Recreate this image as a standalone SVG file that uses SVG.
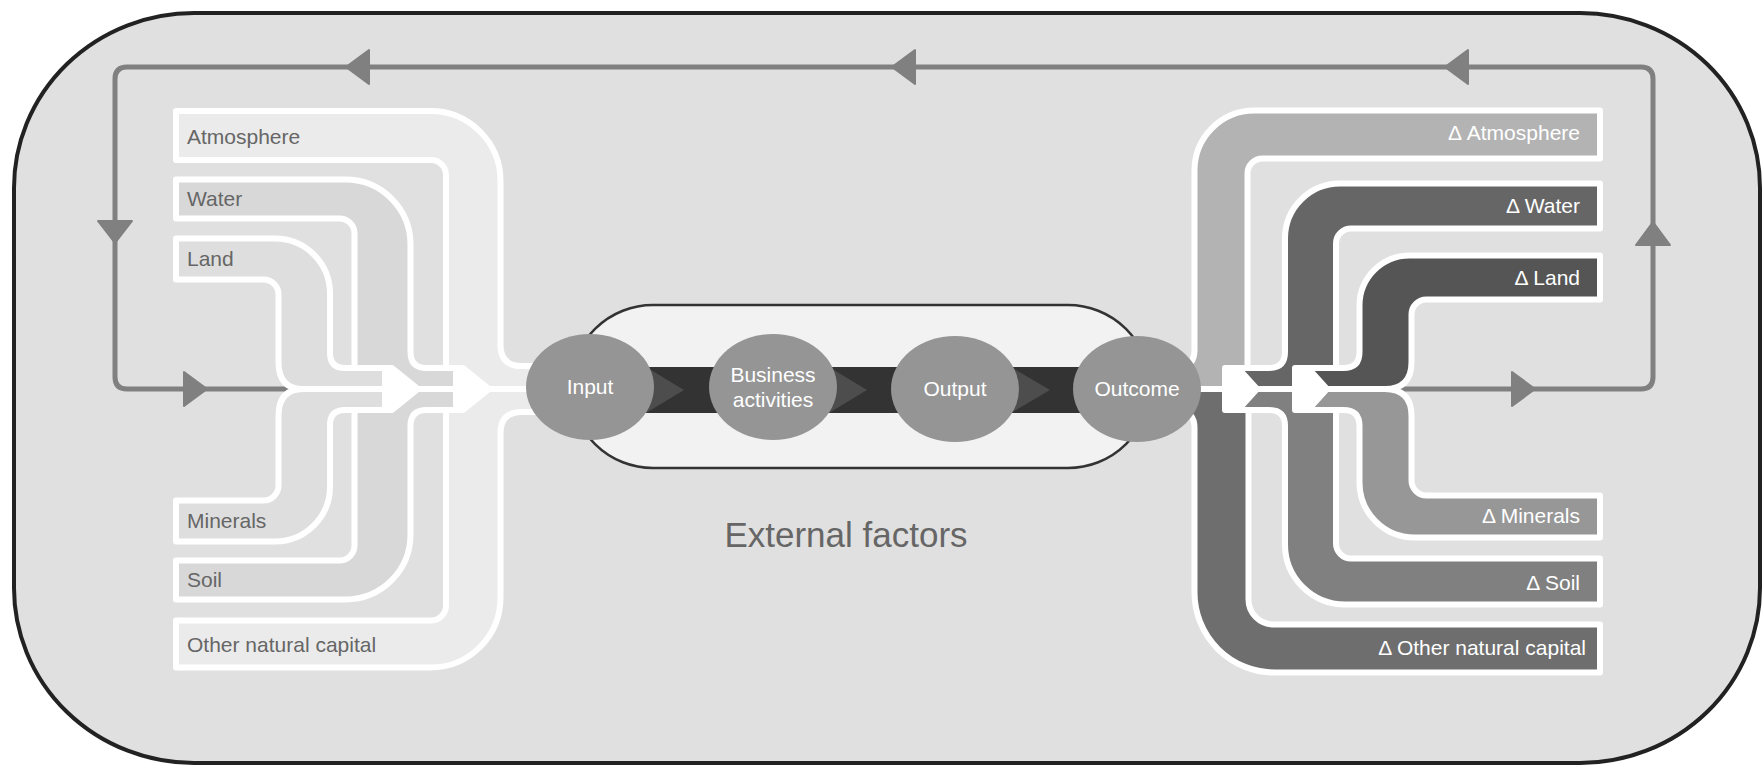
<svg xmlns="http://www.w3.org/2000/svg" width="1764" height="767" viewBox="0 0 1764 767">
<defs>
<style>
.band{stroke:#fff;stroke-width:6;stroke-linejoin:round}
.txt{font-family:"Liberation Sans",Arial,sans-serif;font-size:21px}
.lt{fill:#666}
.rt{fill:#fff;text-anchor:end}
.node{fill:#959595}
.nt{fill:#fff;text-anchor:middle}
.loop{fill:none;stroke:#808080;stroke-width:5}
.ah{fill:#808080;stroke:#808080;stroke-width:2;stroke-linejoin:round}
.wa{fill:#fff}
.chev{fill:#4d4d4d}
</style>
</defs>
<rect x="0" y="0" width="1764" height="767" fill="#fff"/>
<rect id="frame" x="14" y="13" width="1746" height="750" rx="180" ry="175" fill="#e0e0e0" stroke="#222" stroke-width="4"/>

<g id="connectors">
<path class="loop" d="M 292 389 H 127 Q 115 389 115 377 V 79 Q 115 67 127 67 H 1641 Q 1653 67 1653 79 V 377 Q 1653 389 1641 389 H 1393"/>
<polygon class="ah" points="207,389 184,372 184,406"/>
<polygon class="ah" points="115,243 98,221 132,221"/>
<polygon class="ah" points="346,67 369,50 369,84"/>
<polygon class="ah" points="892,67 915,50 915,84"/>
<polygon class="ah" points="1445,67 1468,50 1468,84"/>
<polygon class="ah" points="1653,222 1636,245 1670,245"/>
<polygon class="ah" points="1535,389 1512,372 1512,406"/>
</g>

<g id="atmosphere">
<path class="band" fill="#ebebeb" d="M 176 111 H 430.5 A 70 70 0 0 1 500.5 181 V 345 Q 500.5 366 522 366 H 560 V 389 H 489 L 463 368 H 446 V 175 A 15 15 0 0 0 431 160 H 176 Z"/>
<text class="txt lt" x="187" y="144">Atmosphere</text>
</g>
<g id="water">
<path class="band" fill="#d8d8d8" d="M 176 179.5 H 345.5 A 65 65 0 0 1 410.5 244.5 V 352 Q 410.5 368 426.5 368 H 456 V 389 H 418 L 392 368 H 354.5 V 233.5 A 15 15 0 0 0 339.5 218.5 H 176 Z"/>
<text class="txt lt" x="187" y="206">Water</text>
</g>
<g id="land">
<path class="band" fill="#dedede" d="M 176 238.5 H 275 A 55 55 0 0 1 330 293.5 V 353 Q 330 368 345 368 H 385 V 389 H 303 Q 278.5 389 278.5 362 V 294.5 A 15 15 0 0 0 263.5 279.5 H 176 Z"/>
<text class="txt lt" x="187" y="266">Land</text>
</g>
<g id="minerals">
<path class="band" fill="#dedede" d="M 176 541.5 H 275 A 55 55 0 0 0 330 486.5 V 425 Q 330 410 345 410 H 385 V 389 H 303 Q 278.5 389 278.5 416 V 485.5 A 15 15 0 0 1 263.5 500.5 H 176 Z"/>
<text class="txt lt" x="187" y="528">Minerals</text>
</g>
<g id="soil">
<path class="band" fill="#d8d8d8" d="M 176 599.5 H 345.5 A 65 65 0 0 0 410.5 534.5 V 426 Q 410.5 410 426.5 410 H 456 V 389 H 418 L 392 410 H 354.5 V 545.5 A 15 15 0 0 1 339.5 560.5 H 176 Z"/>
<text class="txt lt" x="187" y="587">Soil</text>
</g>
<g id="other">
<path class="band" fill="#ebebeb" d="M 176 667.5 H 430.5 A 70 70 0 0 0 500.5 597.5 V 433 Q 500.5 412 522 412 H 560 V 389 H 489 L 463 410 H 446 V 605.5 A 15 15 0 0 1 431 620.5 H 176 Z"/>
<text class="txt lt" x="187" y="652">Other natural capital</text>
</g>

<g id="d-atmosphere">
<path class="band" fill="#b3b3b3" d="M 1600 110.5 H 1254.5 A 60 60 0 0 0 1194.5 170.5 V 350 Q 1194.5 366 1180 366 H 1160 V 389 H 1225 V 368 H 1247.5 V 173.5 A 15 15 0 0 1 1262.5 158.5 H 1600 Z"/>
<text class="txt rt" x="1580" y="140">Δ Atmosphere</text>
</g>
<g id="d-water">
<path class="band" fill="#666" d="M 1600 183.5 H 1340 A 55 55 0 0 0 1285 238.5 V 352 Q 1285 368 1269 368 H 1238 L 1257 389 H 1295 V 368 H 1336 V 243.5 A 15 15 0 0 1 1351 228.5 H 1600 Z"/>
<text class="txt rt" x="1580" y="213">Δ Water</text>
</g>
<g id="d-land">
<path class="band" fill="#555" d="M 1600 255.5 H 1409.5 A 50 50 0 0 0 1359.5 305.5 V 352 Q 1359.5 368 1343.5 368 H 1308 L 1327 389 H 1385 Q 1411.5 389 1411.5 362 V 314.5 A 15 15 0 0 1 1426.5 299.5 H 1600 Z"/>
<text class="txt rt" x="1580" y="285">Δ Land</text>
</g>
<g id="d-minerals">
<path class="band" fill="#979797" d="M 1600 537.5 H 1414.5 A 55 55 0 0 1 1359.5 482.5 V 426 Q 1359.5 410 1343.5 410 H 1308 L 1327 389 H 1385 Q 1411.5 389 1411.5 416 V 480.5 A 15 15 0 0 0 1426.5 495.5 H 1600 Z"/>
<text class="txt rt" x="1580" y="523">Δ Minerals</text>
</g>
<g id="d-soil">
<path class="band" fill="#808080" d="M 1600 604.5 H 1345 A 60 60 0 0 1 1285 544.5 V 426 Q 1285 410 1269 410 H 1238 L 1257 389 H 1295 V 410 H 1336 V 543.5 A 15 15 0 0 0 1351 558.5 H 1600 Z"/>
<text class="txt rt" x="1580" y="590">Δ Soil</text>
</g>
<g id="d-other">
<path class="band" fill="#6e6e6e" d="M 1600 672.5 H 1274.5 A 80 80 0 0 1 1194.5 592.5 V 428 Q 1194.5 412 1180 412 H 1160 V 389 H 1225 V 410 H 1248.5 V 599.5 A 25 25 0 0 0 1273.5 624.5 H 1600 Z"/>
<text class="txt rt" x="1586" y="655">Δ Other natural capital</text>
</g>

<g id="merge-arrows">
<polygon class="wa" points="385,365 392,365 419,389 392,413 385,413"/>
<polygon class="wa" points="456,365 463,365 490,389 463,413 456,413"/>
<polygon class="wa" points="1225,365 1238,365 1258,389 1238,413 1225,413"/>
<polygon class="wa" points="1295,365 1308,365 1328,389 1308,413 1295,413"/>
</g>

<g id="process">
<rect x="571" y="305" width="579" height="163" rx="82" ry="82" fill="#f2f2f2" stroke="#333" stroke-width="2.5"/>
<rect x="590" y="367" width="547" height="46" fill="#333"/>
<polygon class="chev" points="646,367 684,390 646,413"/>
<polygon class="chev" points="829,367 867,390 829,413"/>
<polygon class="chev" points="1011,367 1050,390 1011,413"/>
</g>

<g id="input">
<ellipse class="node" cx="590" cy="387" rx="64" ry="53"/>
<text class="txt nt" x="590" y="394">Input</text>
</g>
<g id="business">
<ellipse class="node" cx="773" cy="387" rx="64" ry="53"/>
<text class="txt nt" x="773" y="382">Business</text>
<text class="txt nt" x="773" y="407">activities</text>
</g>
<g id="output">
<ellipse class="node" cx="955" cy="389" rx="64" ry="53"/>
<text class="txt nt" x="955" y="396">Output</text>
</g>
<g id="outcome">
<ellipse class="node" cx="1137" cy="389" rx="64" ry="53"/>
<text class="txt nt" x="1137" y="396">Outcome</text>
</g>

<text id="external" x="846" y="547" text-anchor="middle" font-family="Liberation Sans, Arial, sans-serif" font-size="35" fill="#666">External factors</text>
</svg>
